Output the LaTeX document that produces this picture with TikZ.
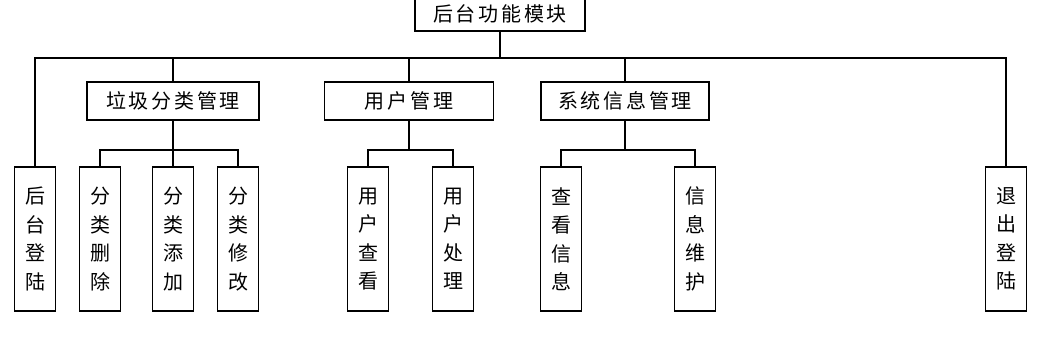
\documentclass[tikz,border=0pt]{standalone}
\usepackage{fontspec}
\newfontfamily\cjk{Noto Sans CJK SC}
\newfontfamily\cjkwide[LetterSpace=14]{Noto Sans CJK SC}
\usetikzlibrary{positioning}

\begin{document}
\begin{tikzpicture}[
  x=1pt, y=-1pt,
  line width=1.4pt,
  midbox/.style={draw, inner sep=0pt, minimum height=38pt, font=\cjkwide\fontsize{20}{24}\selectfont},
  leafbox/.style={draw, inner sep=0pt, align=center, minimum width=41pt, minimum height=144pt, font=\cjk\fontsize{20}{28.5}\selectfont}
]
\useasboundingbox (0,0) rectangle (1052,341);
% top level
\node[midbox, minimum width=170pt, minimum height=34pt] (root) at (500,14) {后台功能模块};
% second level
\node[midbox, minimum width=172pt] (rubbish) at (173,101) {垃圾分类管理};
\node[midbox, minimum width=169pt] (user) at (409,101) {用户管理};
\node[midbox, minimum width=168pt] (sys) at (625,101) {系统信息管理};
% leaves
\node[leafbox] (login) at (35,239) {后\\台\\登\\陆};
\node[leafbox] (del) at (100,239) {分\\类\\删\\除};
\node[leafbox] (add) at (173,239) {分\\类\\添\\加};
\node[leafbox] (mod) at (238,239) {分\\类\\修\\改};
\node[leafbox] (uview) at (368,239) {用\\户\\查\\看};
\node[leafbox] (uproc) at (453,239) {用\\户\\处\\理};
\node[leafbox] (iview) at (561,239) {查\\看\\信\\息};
\node[leafbox] (imaint) at (695,239) {信\\息\\维\\护};
\node[leafbox] (logout) at (1006,239) {退\\出\\登\\陆};
% bus lines
\coordinate (bus) at (500,58);
\coordinate (sub) at (0,150);
\draw (root.south) -- (bus);
\draw (login.north) |- (bus) -| (logout.north);
\foreach \m in {rubbish,user,sys}
  \draw (\m.north) -- (\m.north |- bus);
\draw (rubbish.south) -- (add.north);
\draw (del.north) |- (mod.north |- sub) -- (mod.north);
\draw (user.south) -- (user.south |- sub);
\draw (uview.north) |- (uproc.north |- sub) -- (uproc.north);
\draw (sys.south) -- (sys.south |- sub);
\draw (iview.north) |- (imaint.north |- sub) -- (imaint.north);
\end{tikzpicture}
\end{document}
